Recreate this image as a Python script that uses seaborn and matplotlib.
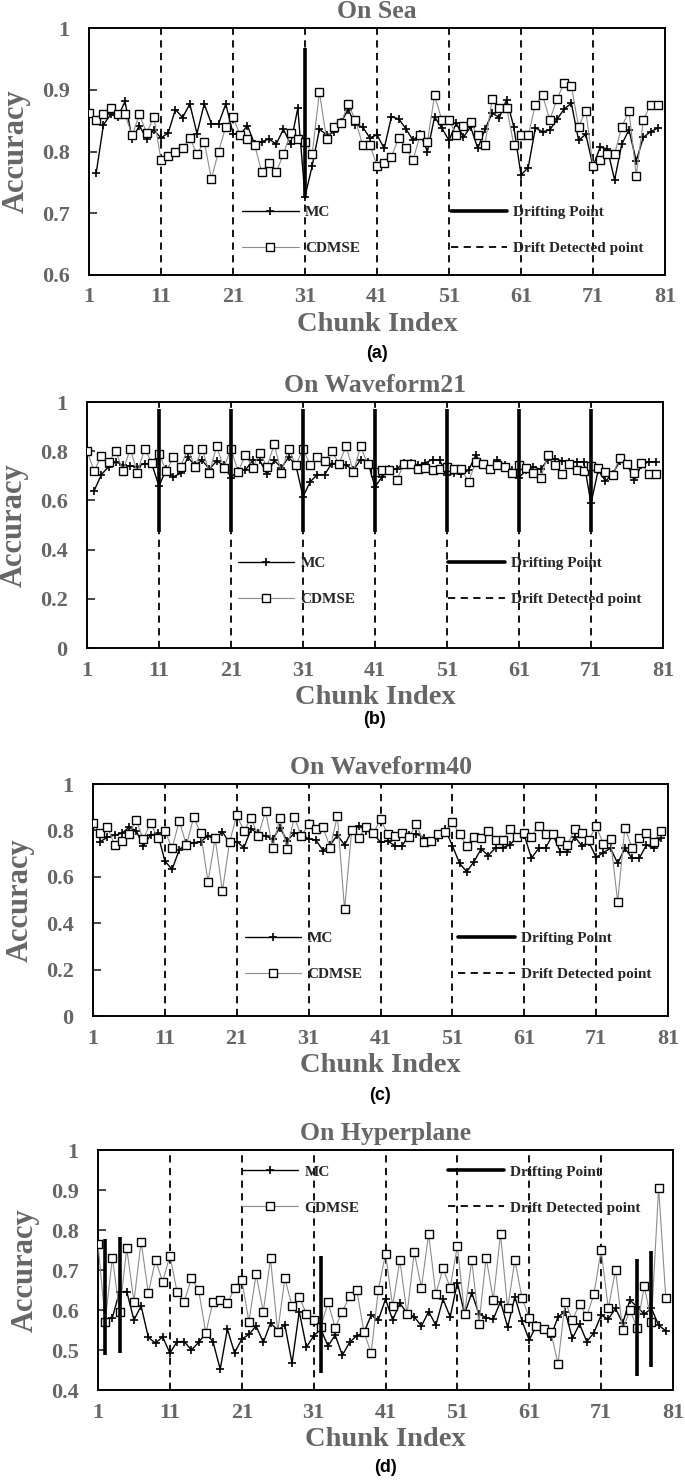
import numpy as np
import pandas as pd
import seaborn as sns
import matplotlib.pyplot as plt
from matplotlib.lines import Line2D

# chunk axis
chunks = list(range(1, 81))          # CDMSE has a value for every chunk
mc_chunks = list(range(2, 81))       # MC starts at chunk 2
detected = [11, 21, 31, 41, 51, 61, 71]
xticks = [1, 11, 21, 31, 41, 51, 61, 71, 81]

titles = ["On Sea", "On Waveform21", "On Waveform40", "On Hyperplane"]
tags = ["(a)", "(b)", "(c)", "(d)"]

# ---- On Sea ----
sea_mc = [0.765, 0.843, 0.860, 0.856, 0.881, 0.820, 0.842, 0.820, 0.835,
          0.822, 0.830, 0.868, 0.855, 0.877, 0.829, 0.877, 0.845, 0.845, 0.877,
          0.829, 0.827, 0.842, 0.812, 0.816, 0.820, 0.812, 0.836, 0.812, 0.870,
          0.727, 0.777, 0.836, 0.827, 0.831, 0.847, 0.868, 0.843, 0.840, 0.822,
          0.827, 0.805, 0.856, 0.853, 0.837, 0.818, 0.829, 0.800, 0.856, 0.838,
          0.818, 0.846, 0.823, 0.840, 0.805, 0.836, 0.862, 0.855, 0.884, 0.840,
          0.762, 0.774, 0.838, 0.832, 0.835, 0.852, 0.869, 0.878, 0.818, 0.828,
          0.776, 0.807, 0.804, 0.754, 0.812, 0.835, 0.785, 0.823, 0.832, 0.838]
sea_cdmse = [0.862, 0.851, 0.860, 0.870, 0.860, 0.860, 0.826, 0.860, 0.830, 0.856,
             0.787, 0.792, 0.800, 0.806, 0.822, 0.796, 0.816, 0.756, 0.800, 0.840,
             0.856, 0.826, 0.820, 0.811, 0.766, 0.781, 0.766, 0.796, 0.830, 0.820,
             0.816, 0.796, 0.896, 0.820, 0.840, 0.846, 0.877, 0.851, 0.811, 0.811,
             0.777, 0.781, 0.791, 0.822, 0.806, 0.786, 0.827, 0.816, 0.891, 0.851,
             0.851, 0.827, 0.842, 0.847, 0.826, 0.811, 0.885, 0.871, 0.871, 0.811,
             0.826, 0.826, 0.876, 0.891, 0.851, 0.885, 0.911, 0.906, 0.840, 0.866,
             0.776, 0.786, 0.796, 0.796, 0.840, 0.866, 0.761, 0.851, 0.876, 0.876]
sea_drift = [31]
sea_drift_lo = [0.725]
sea_drift_hi = [0.968]

# ---- On Waveform21 ----
wf21_mc = [0.640, 0.705, 0.737, 0.757, 0.743, 0.740, 0.737, 0.750, 0.748,
           0.658, 0.727, 0.696, 0.710, 0.775, 0.743, 0.763, 0.727, 0.760, 0.743,
           0.693, 0.720, 0.723, 0.763, 0.763, 0.706, 0.763, 0.733, 0.775, 0.745,
           0.615, 0.676, 0.705, 0.705, 0.750, 0.750, 0.743, 0.723, 0.766, 0.757,
           0.655, 0.696, 0.726, 0.727, 0.753, 0.753, 0.743, 0.753, 0.766, 0.763,
           0.703, 0.710, 0.706, 0.723, 0.784, 0.743, 0.723, 0.766, 0.743, 0.723,
           0.693, 0.723, 0.737, 0.726, 0.766, 0.770, 0.760, 0.757, 0.757, 0.757,
           0.588, 0.723, 0.679, 0.706, 0.760, 0.750, 0.682, 0.743, 0.757, 0.757]
wf21_cdmse = [0.800, 0.720, 0.780, 0.756, 0.800, 0.720, 0.810, 0.713, 0.810, 0.753,
              0.790, 0.720, 0.775, 0.737, 0.810, 0.737, 0.810, 0.713, 0.820, 0.733,
              0.810, 0.716, 0.786, 0.733, 0.793, 0.737, 0.828, 0.713, 0.810, 0.743,
              0.810, 0.745, 0.775, 0.760, 0.800, 0.750, 0.820, 0.716, 0.820, 0.746,
              0.716, 0.723, 0.723, 0.682, 0.746, 0.746, 0.728, 0.733, 0.723, 0.728,
              0.737, 0.728, 0.726, 0.676, 0.757, 0.748, 0.726, 0.743, 0.737, 0.713,
              0.743, 0.730, 0.713, 0.690, 0.784, 0.743, 0.706, 0.748, 0.723, 0.719,
              0.740, 0.733, 0.716, 0.703, 0.774, 0.750, 0.710, 0.753, 0.706, 0.706]
wf21_drift = [11, 21, 31, 41, 51, 61, 71]
wf21_drift_lo = [0.47, 0.47, 0.47, 0.47, 0.47, 0.47, 0.47]
wf21_drift_hi = [0.97, 0.97, 0.97, 0.97, 0.97, 0.97, 0.97]

# ---- On Waveform40 ----
wf40_mc = [0.752, 0.770, 0.780, 0.787, 0.813, 0.799, 0.733, 0.780, 0.787,
           0.668, 0.632, 0.716, 0.744, 0.747, 0.752, 0.776, 0.761, 0.795, 0.744,
           0.752, 0.726, 0.805, 0.787, 0.776, 0.763, 0.812, 0.756, 0.787, 0.784,
           0.763, 0.759, 0.713, 0.737, 0.780, 0.737, 0.797, 0.819, 0.799, 0.787,
           0.749, 0.754, 0.734, 0.734, 0.780, 0.784, 0.769, 0.754, 0.766, 0.806,
           0.734, 0.658, 0.622, 0.665, 0.720, 0.691, 0.726, 0.726, 0.737, 0.773,
           0.780, 0.680, 0.723, 0.726, 0.783, 0.708, 0.708, 0.773, 0.734, 0.749,
           0.684, 0.704, 0.723, 0.658, 0.723, 0.680, 0.680, 0.737, 0.723, 0.769]
wf40_cdmse = [0.833, 0.787, 0.816, 0.737, 0.754, 0.783, 0.845, 0.761, 0.833, 0.766,
              0.799, 0.723, 0.840, 0.737, 0.856, 0.787, 0.579, 0.766, 0.539, 0.749,
              0.866, 0.799, 0.852, 0.776, 0.883, 0.726, 0.852, 0.720, 0.856, 0.776,
              0.828, 0.805, 0.813, 0.726, 0.862, 0.460, 0.802, 0.769, 0.816, 0.787,
              0.848, 0.784, 0.776, 0.787, 0.773, 0.828, 0.749, 0.754, 0.783, 0.795,
              0.838, 0.783, 0.734, 0.773, 0.766, 0.799, 0.759, 0.759, 0.806, 0.773,
              0.790, 0.773, 0.820, 0.783, 0.783, 0.754, 0.737, 0.806, 0.790, 0.759,
              0.820, 0.741, 0.761, 0.493, 0.812, 0.725, 0.766, 0.787, 0.749, 0.799]
wf40_drift = []
wf40_drift_lo = []
wf40_drift_hi = []

# ---- On Hyperplane ----
hyp_mc = [0.575, 0.581, 0.646, 0.646, 0.575, 0.610, 0.532, 0.517, 0.533,
          0.492, 0.521, 0.521, 0.500, 0.519, 0.542, 0.521, 0.452, 0.552, 0.493,
          0.527, 0.539, 0.560, 0.519, 0.567, 0.550, 0.562, 0.467, 0.596, 0.507,
          0.535, 0.552, 0.510, 0.537, 0.487, 0.519, 0.536, 0.543, 0.587, 0.575,
          0.627, 0.575, 0.617, 0.592, 0.583, 0.560, 0.596, 0.562, 0.627, 0.583,
          0.668, 0.590, 0.643, 0.590, 0.581, 0.577, 0.621, 0.557, 0.633, 0.572,
          0.525, 0.562, 0.552, 0.533, 0.583, 0.596, 0.529, 0.565, 0.521, 0.543,
          0.587, 0.577, 0.604, 0.567, 0.625, 0.608, 0.590, 0.604, 0.562, 0.548]
hyp_cdmse = [0.765, 0.571, 0.731, 0.596, 0.754, 0.621, 0.771, 0.642, 0.725, 0.671,
             0.736, 0.646, 0.621, 0.679, 0.650, 0.542, 0.621, 0.625, 0.617, 0.654,
             0.675, 0.571, 0.689, 0.596, 0.729, 0.546, 0.679, 0.610, 0.633, 0.590,
             0.575, 0.558, 0.619, 0.556, 0.596, 0.635, 0.650, 0.546, 0.492, 0.650,
             0.740, 0.610, 0.725, 0.589, 0.744, 0.656, 0.790, 0.640, 0.704, 0.656,
             0.760, 0.590, 0.725, 0.565, 0.731, 0.625, 0.790, 0.604, 0.725, 0.629,
             0.581, 0.560, 0.552, 0.546, 0.465, 0.621, 0.575, 0.615, 0.585, 0.640,
             0.750, 0.604, 0.700, 0.550, 0.600, 0.556, 0.660, 0.571, 0.906, 0.629]
hyp_drift = [2, 4, 32, 76, 78]
hyp_drift_lo = [0.488, 0.492, 0.442, 0.435, 0.457]
hyp_drift_hi = [0.777, 0.783, 0.736, 0.728, 0.748]

panels = [
    (sea_mc, sea_cdmse, sea_drift, sea_drift_lo, sea_drift_hi),
    (wf21_mc, wf21_cdmse, wf21_drift, wf21_drift_lo, wf21_drift_hi),
    (wf40_mc, wf40_cdmse, wf40_drift, wf40_drift_lo, wf40_drift_hi),
    (hyp_mc, hyp_cdmse, hyp_drift, hyp_drift_lo, hyp_drift_hi),
]
ylims = [(0.6, 1.0), (0.0, 1.0), (0.0, 1.0), (0.4, 1.0)]
yticklabels = [["0.6", "0.7", "0.8", "0.9", "1"],
               ["0", "0.2", "0.4", "0.6", "0.8", "1"],
               ["0", "0.2", "0.4", "0.6", "0.8", "1"],
               ["0.4", "0.5", "0.6", "0.7", "0.8", "0.9", "1"]]

# layout in pixels: left, top, right, bottom of each plot box
W, H = 685, 1481
boxes = [(89, 28, 665, 275), (87, 402, 663, 648),
         (93, 784, 668, 1016), (98, 1150, 673, 1390)]
tag_y = [353, 719, 1096, 1467]
# legend anchors (axes fraction): left col x, right col x, middle y
leg_pos = [(0.266, 0.628, 0.18), (0.262, 0.627, 0.271),
           (0.264, 0.635, 0.257), (0.250, 0.608, 0.834)]

sns.set_style("ticks")
plt.rcParams['font.family'] = ['Liberation Serif', 'DejaVu Serif']
plt.rcParams['font.weight'] = 'bold'
GRAY = '#666666'

fig = plt.figure(figsize=(W / 100, H / 100), dpi=100)

for i, (mc, cd, dr, lo, hi) in enumerate(panels):
    l, t, r, b = boxes[i]
    ax = fig.add_axes([l / W, 1 - b / H, (r - l) / W, (b - t) / H])

    sns.lineplot(x=mc_chunks, y=mc, ax=ax, color='black', linewidth=1.0,
                 marker='+', markersize=6, markeredgewidth=1.2,
                 markeredgecolor='black', zorder=3)
    sns.lineplot(x=chunks, y=cd, ax=ax, color='#8c8c8c', linewidth=0.8,
                 marker='s', markersize=5.5, markerfacecolor='white',
                 markeredgecolor='black', markeredgewidth=1.0, zorder=4)

    for d in detected:
        ax.axvline(d, color='black', linestyle=(0, (4, 3)), linewidth=1.3, zorder=2)
    if dr:
        ax.vlines(dr, lo, hi, color='black', linewidth=2.6, zorder=5)

    ax.set_xlim(1, 81)
    ax.set_ylim(*ylims[i])
    ax.set_xticks(xticks)
    ax.set_xticklabels([str(v) for v in xticks])
    ylo, yhi = ylims[i]
    ax.set_yticks(np.linspace(ylo, yhi, len(yticklabels[i])))
    ax.set_yticklabels(yticklabels[i])
    ax.tick_params(axis='x', length=0, pad=9, labelsize=16, labelcolor=GRAY)
    ax.tick_params(axis='y', direction='in', length=6, width=1.2, pad=14,
                   labelsize=16, labelcolor=GRAY)
    for s in ax.spines.values():
        s.set_visible(True)
        s.set_linewidth(1.4)
        s.set_color('black')

    ax.set_title(titles[i], fontsize=18.5, fontweight='bold', color=GRAY, pad=7)
    ax.set_xlabel("Chunk Index", fontsize=20.5, fontweight='bold', color=GRAY, labelpad=3)
    ax.set_ylabel("Accuracy", fontsize=22, fontweight='bold', color=GRAY)
    ax.yaxis.set_label_coords(-58 / (r - l), 0.5)

    fig.text((l + r) / 2 / W, 1 - tag_y[i] / H, tags[i], ha='center', va='center',
             fontsize=13, fontweight='bold', family='Liberation Sans', color='black')

    h_mc = Line2D([], [], color='black', linewidth=1.0, marker='+', markersize=6,
                  markeredgewidth=1.2)
    h_cd = Line2D([], [], color='#8c8c8c', linewidth=0.8, marker='s', markersize=5.5,
                  markerfacecolor='white', markeredgecolor='black', markeredgewidth=1.0)
    h_dr = Line2D([], [], color='black', linewidth=2.6)
    h_dd = Line2D([], [], color='black', linewidth=1.3, linestyle=(0, (4, 3)))
    x1, x2, ym = leg_pos[i]
    common = dict(loc='center left', frameon=False, borderpad=0, borderaxespad=0,
                  handlelength=3.7, handletextpad=0.4, labelspacing=1.45,
                  prop={'family': 'Liberation Serif', 'weight': 'bold', 'size': 11})
    leg1 = ax.legend([h_mc, h_cd], ["MC", "CDMSE"], bbox_to_anchor=(x1, ym), **common)
    ax.add_artist(leg1)
    ax.legend([h_dr, h_dd], ["Drifting Point", "Drift Detected point"],
              bbox_to_anchor=(x2, ym), **common)

fig.savefig("out.png", dpi=100)
